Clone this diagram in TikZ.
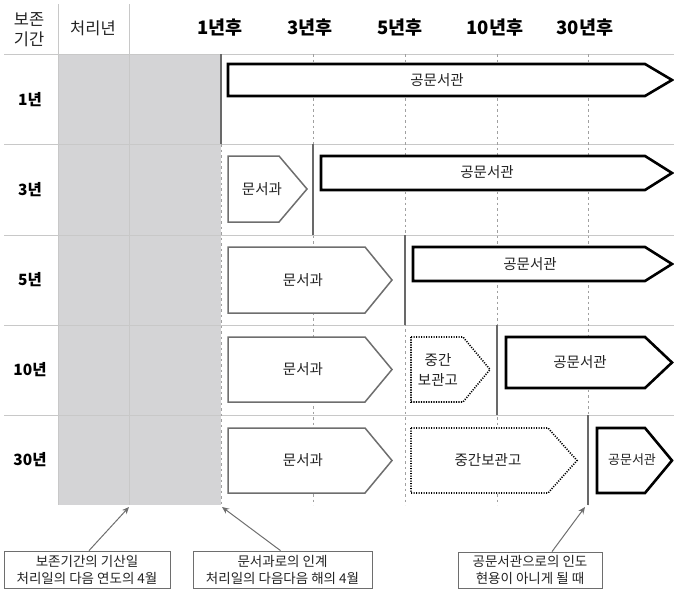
\documentclass[tikz,border=0pt]{standalone}
\usepackage{fontspec}
\setmainfont{Noto Sans CJK KR}
\usetikzlibrary{arrows.meta}
\definecolor{shadec}{RGB}{212,212,214}
\definecolor{gridc}{RGB}{200,200,200}
\definecolor{markc}{RGB}{105,105,105}
\definecolor{boxc}{RGB}{110,110,110}
\definecolor{txtc}{RGB}{35,35,35}
\newcommand{\pentshape}[6]{\draw[#1] (#2,#5) -- (#3,#5) -- (#4,{(#5+#6)/2}) -- (#3,#6) -- (#2,#6) -- cycle;}
\tikzset{
  gridline/.style={gridc, line width=0.8pt},
  timeline/.style={gridc!80!black, line width=0.7pt, dash pattern=on 2.5pt off 3pt},
  marker/.style={markc, line width=2pt},
  archive/.style={black, line width=2.6pt, fill=white, line join=miter},
  office/.style={boxc, line width=1.5pt, fill=white},
  interim/.style={black, line width=1.6pt, dash pattern=on 1.1pt off 1.4pt, fill=white},
  head/.style={font=\fontsize{18.5}{20}\selectfont\bfseries, text=black},
  headr/.style={font=\fontsize{16.5}{20}\selectfont, text=txtc, align=center},
  rowlab/.style={font=\fontsize{15.5}{18}\selectfont\bfseries, text=black},
  lab/.style={font=\fontsize{14.5}{20}\selectfont, text=txtc, align=center},
  note/.style={draw=boxc, line width=0.8pt, fill=white, font=\fontsize{13.5}{17}\selectfont, text=txtc, align=center, inner sep=0pt},
  pointer/.style={boxc, line width=1pt, -{Stealth[length=7pt,width=6pt]}}
}
\begin{document}
\begin{tikzpicture}[x=1pt,y=-1pt]
\useasboundingbox (0,0) rectangle (674,589);
% shaded area
\fill[shadec] (58,54) rectangle (221,505);
% grid
\draw[gridline] (4,54) -- (674,54);
\foreach \yy in {144,235,325,415} \draw[gridline] (4,\yy) -- (674,\yy);
\draw[gridline] (58,4) -- (58,505);
\draw[gridline] (129,4) -- (129,505);
% time lines
\draw[timeline] (221,144) -- (221,505);
\foreach \xx in {313,405,497,588} \draw[timeline] (\xx,54) -- (\xx,505);
% headers
\node[headr] (hkeep) at (29,30) {보존\\기간};
\node[headr] (hyear) at (93,28) {처리년};
\node[head] (h1) at (220,28) {1년후};
\node[head] (h3) at (310,28) {3년후};
\node[head] (h5) at (400,28) {5년후};
\node[head] (h10) at (495,28) {10년후};
\node[head] (h30) at (585,28) {30년후};
% row labels
\node[rowlab] (r1) at (30,100) {1년};
\node[rowlab] (r3) at (30,190) {3년};
\node[rowlab] (r5) at (30,280) {5년};
\node[rowlab] (r10) at (30,370) {10년};
\node[rowlab] (r30) at (30,460) {30년};
% transfer markers
\draw[marker] (221,54) -- (221,144);
\draw[marker] (313,144) -- (313,235);
\draw[marker] (405,235) -- (405,325);
\draw[marker] (497,325) -- (497,415);
\draw[marker] (588,415) -- (588,505);
% row 1
\pentshape{archive}{228}{645}{672}{64}{96}
\node[lab] (a1) at (437,80) {공문서관};
% row 2
\pentshape{office}{228}{279}{307}{156}{222}
\node[lab] (o3) at (262,189) {문서과};
\pentshape{archive}{321}{645}{672}{156}{190}
\node[lab] (a3) at (487,172) {공문서관};
% row 3
\pentshape{office}{228}{365}{392}{247}{313}
\node[lab] (o5) at (303,280) {문서과};
\pentshape{archive}{413}{645}{672}{247}{281}
\node[lab] (a5) at (530,264) {공문서관};
% row 4
\pentshape{office}{228}{365}{392}{337}{402}
\node[lab] (o10) at (303,369) {문서과};
\pentshape{interim}{411}{463}{490}{337}{402}
\node[lab] (i10) at (438,370) {중간\\보관고};
\pentshape{archive}{506}{645}{672}{337}{388}
\node[lab] (a10) at (580,362) {공문서관};
% row 5
\pentshape{office}{228}{365}{392}{428}{493}
\node[lab] (o30) at (303,460) {문서과};
\pentshape{interim}{411}{548}{577}{428}{493}
\node[lab] (i30) at (488,460) {중간보관고};
\pentshape{archive}{597}{645}{672}{428}{493}
\node[lab, font=\fontsize{13}{15}\selectfont] (a30) at (632,460) {공문서관};
% notes
\node[note, minimum width=166pt, minimum height=37pt] (n1) at (87,569.5) {보존기간의 기산일\\처리일의 다음 연도의 4월};
\node[note, minimum width=179pt, minimum height=37pt] (n2) at (282.5,569.5) {문서과로의 인계\\처리일의 다음다음 해의 4월};
\node[note, minimum width=144pt, minimum height=36pt] (n3) at (530,570) {공문서관으로의 인도\\현용이 아니게 될 때};
\coordinate (p1) at (129,507);
\coordinate (p2) at (222,507);
\coordinate (p3) at (585,507);
\draw[pointer] ([xshift=2pt]n1.north) -- (p1);
\draw[pointer] ([xshift=-2pt]n2.north) -- (p2);
\draw[pointer] ([xshift=22pt]n3.north) -- (p3);
\end{tikzpicture}
\end{document}
